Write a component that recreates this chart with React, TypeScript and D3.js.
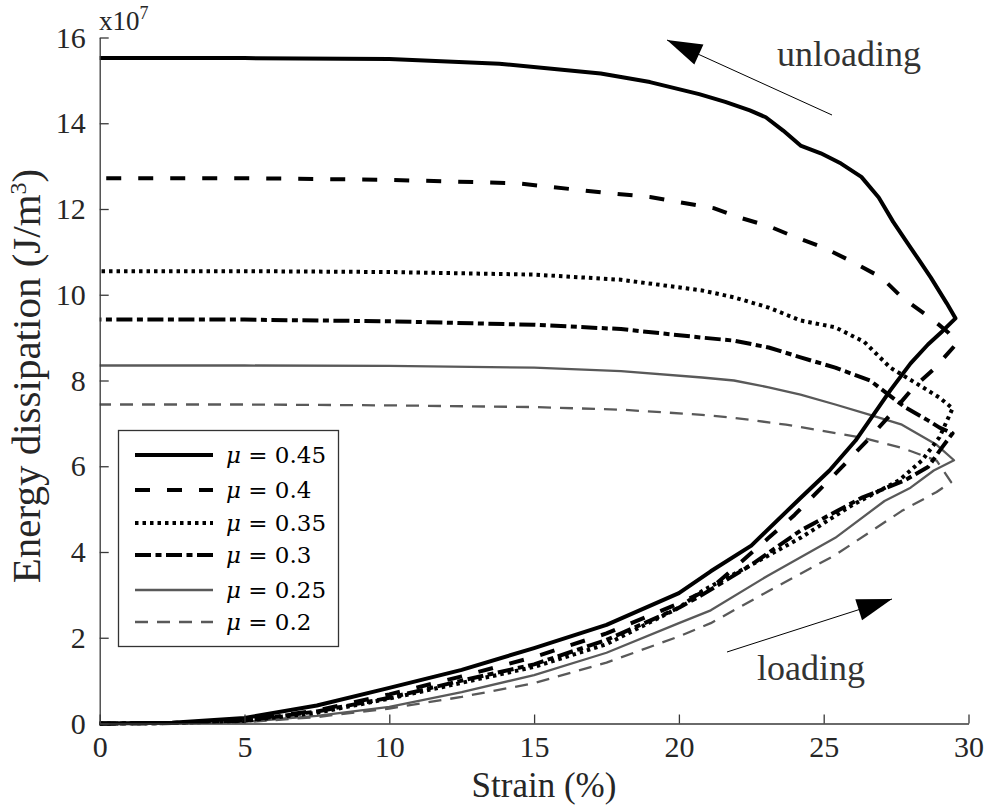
import { useRef, useEffect } from 'react';
import * as d3 from 'd3';

// strain (%) vs energy dissipation (x10^7 J/m^3), loading then unloading
const mu045 = [
  [0, 0], [2.5, 0.02], [5, 0.13], [7.5, 0.42], [10, 0.83], [12.5, 1.25], [15, 1.76],
  [17.5, 2.3], [20, 3.04], [21.1, 3.55], [22.5, 4.15], [24.2, 5.26], [25.2, 5.9],
  [26.1, 6.6], [27.3, 7.77], [28.0, 8.4], [28.6, 8.84], [29.1, 9.15], [29.55, 9.45],
  [29.25, 9.8], [28.7, 10.4], [28.3, 10.8], [27.9, 11.2], [27.4, 11.7], [26.9, 12.27],
  [26.3, 12.75], [25.6, 13.06], [24.9, 13.3], [24.2, 13.48], [23.6, 13.83], [23.0, 14.14],
  [22.45, 14.3], [21.6, 14.5], [20.7, 14.68], [19.0, 14.96], [17.3, 15.16], [13.8, 15.39],
  [10, 15.5], [5, 15.52], [0, 15.52],
];
const mu040 = [
  [0, 0], [2.5, 0.01], [5, 0.08], [7.5, 0.3], [10, 0.68], [12.5, 1.1], [15, 1.55],
  [17.5, 2.1], [20, 2.8], [21.1, 3.15], [23.1, 4.33], [24, 4.87], [25.6, 5.96],
  [26.5, 6.6], [27.3, 7.2], [28.1, 7.84], [28.84, 8.29], [29.6, 8.87],
  [29.3, 9.12], [28.8, 9.4], [27.7, 9.94], [27, 10.4], [25.9, 10.8], [25, 11.1],
  [24, 11.35], [23.1, 11.6], [22.1, 11.8], [21.2, 12.02], [19, 12.28], [17.3, 12.39],
  [14.4, 12.6], [10, 12.68], [5, 12.72], [0, 12.72],
];
const mu035 = [
  [0, 0], [2.5, 0.01], [5, 0.06], [7.5, 0.25], [10, 0.58], [12.5, 0.95], [15, 1.32],
  [17.5, 1.85], [20, 2.7], [20.8, 3.09], [22.5, 3.7], [24.2, 4.33], [26, 5.1],
  [27.6, 5.67], [28.4, 6.14], [29.0, 6.68], [29.45, 7.35],
  [29.0, 7.6], [28.4, 7.85], [27.3, 8.3], [26.4, 8.9], [25.4, 9.24], [24.2, 9.4],
  [23.1, 9.7], [21.9, 9.94], [20.8, 10.1], [18, 10.35], [15, 10.47], [10, 10.53],
  [5, 10.55], [0, 10.55],
];
const mu030 = [
  [0, 0], [2.5, 0.01], [5, 0.07], [7.5, 0.28], [10, 0.6], [12.5, 1.0], [15, 1.38],
  [17.5, 1.95], [20, 2.7], [20.8, 3.0], [22.5, 3.7], [24.2, 4.5], [26.3, 5.26],
  [27.8, 5.67], [28.6, 5.98], [29.1, 6.45], [29.45, 6.77],
  [29.0, 6.9], [28.6, 7.07], [27.8, 7.38], [26.6, 8.0], [25.4, 8.3], [24.2, 8.54],
  [23.1, 8.77], [21.9, 8.93], [20.8, 9.0], [18, 9.2], [15, 9.3], [10, 9.38],
  [5, 9.42], [0, 9.42],
];
const mu025 = [
  [0, 0], [2.5, 0.01], [5, 0.04], [7.5, 0.18], [10, 0.39], [12.5, 0.73], [15, 1.13],
  [17.5, 1.65], [20, 2.34], [21.1, 2.64], [23.1, 3.46], [25.4, 4.33], [27.1, 5.19],
  [28.0, 5.5], [28.8, 5.9], [29.5, 6.14],
  [28.9, 6.5], [27.7, 6.97], [26.6, 7.2], [25.4, 7.44], [24.2, 7.67], [23.1, 7.84],
  [21.9, 8.0], [20.8, 8.07], [18, 8.22], [15, 8.3], [10, 8.34], [5, 8.35], [0, 8.35],
];
const mu020 = [
  [0, 0], [2.5, 0.01], [5, 0.03], [7.5, 0.15], [10, 0.35], [12.5, 0.62], [15, 0.94],
  [17.5, 1.42], [20, 2.03], [21.1, 2.34], [23.1, 3.09], [25.4, 3.93], [27.7, 4.96],
  [28.9, 5.4], [29.4, 5.63],
  [28.9, 6.13], [27.7, 6.43], [26.3, 6.67], [24.9, 6.83], [23.7, 6.97], [21.9, 7.13],
  [20.8, 7.2], [18, 7.32], [15, 7.38], [10, 7.42], [5, 7.44], [0, 7.44],
];

const labels = ['0.45', '0.4', '0.35', '0.3', '0.25', '0.2'];
const xTicks = [0, 5, 10, 15, 20, 25, 30];
const yTicks = [0, 2, 4, 6, 8, 10, 12, 14, 16];

const styles = [
  { color: '#000', width: 4, dash: null },
  { color: '#000', width: 4, dash: '15,17' },
  { color: '#000', width: 4, dash: '3.5,4' },
  { color: '#000', width: 4, dash: '16,4.5,6,4.5' },
  { color: '#595959', width: 2.3, dash: null },
  { color: '#595959', width: 2.3, dash: '13,9' },
];

const FONT = 'Liberation Serif, Times New Roman, serif';

function Chart() {
  const svgRef = useRef(null);

  useEffect(() => {
    const svg = d3.select(svgRef.current);
    svg.selectAll('*').remove();

    const x = d3.scaleLinear().domain([0, 30]).range([99.7, 968.5]);
    const y = d3.scaleLinear().domain([0, 16]).range([723.5, 37.5]);
    const series = [mu045, mu040, mu035, mu030, mu025, mu020];

    const line = d3
      .line()
      .x((d) => x(d[0]))
      .y((d) => y(d[1]));

    // curves, draw lightest first
    series
      .map((s, i) => ({ s, i }))
      .reverse()
      .forEach(({ s, i }) => {
        const st = styles[i];
        svg
          .append('path')
          .datum(s)
          .attr('d', line)
          .attr('fill', 'none')
          .attr('stroke', st.color)
          .attr('stroke-width', st.width)
          .attr('stroke-linejoin', 'round')
          .attr('stroke-dasharray', st.dash);
      });

    // axes (only left and bottom, ticks inward)
    const axisColor = '#383838';
    const xAxis = svg
      .append('g')
      .attr('transform', `translate(0, ${y(0)})`)
      .call(d3.axisBottom(x).tickValues(xTicks).tickSize(-9).tickSizeOuter(0).tickPadding(12));
    const yAxis = svg
      .append('g')
      .attr('transform', `translate(${x(0)}, 0)`)
      .call(d3.axisLeft(y).tickValues(yTicks).tickSize(-9).tickSizeOuter(0).tickPadding(14));

    [xAxis, yAxis].forEach((g) => {
      g.attr('font-family', FONT);
      g.select('.domain').attr('stroke', axisColor).attr('stroke-width', 1.3);
      g.selectAll('.tick line').attr('stroke', axisColor).attr('stroke-width', 1.3);
      g.selectAll('.tick text')
        .attr('fill', '#262626')
        .attr('font-family', FONT)
        .attr('font-size', 30);
    });

    svg
      .append('text')
      .attr('x', 99)
      .attr('y', 30)
      .attr('fill', '#262626')
      .attr('font-family', FONT)
      .attr('font-size', 27)
      .text('x10')
      .append('tspan')
      .attr('dy', -11)
      .attr('font-size', 18)
      .text('7');

    svg
      .append('text')
      .attr('x', 544)
      .attr('y', 797)
      .attr('text-anchor', 'middle')
      .attr('fill', '#262626')
      .attr('font-family', FONT)
      .attr('font-size', 35)
      .text('Strain (%)');

    const yl = svg
      .append('text')
      .attr('transform', 'translate(40, 376) rotate(-90)')
      .attr('text-anchor', 'middle')
      .attr('fill', '#262626')
      .attr('font-family', FONT)
      .attr('font-size', 41);
    yl.append('tspan').text('Energy dissipation (J/m');
    yl.append('tspan').attr('dy', -14).attr('font-size', 24).text('3');
    yl.append('tspan').attr('dy', 14).text(')');

    // legend
    const leg = svg.append('g');
    leg
      .append('rect')
      .attr('x', 118.5)
      .attr('y', 430.5)
      .attr('width', 220)
      .attr('height', 216)
      .attr('fill', '#fff')
      .attr('stroke', '#333')
      .attr('stroke-width', 1.3);
    const rowY = [455, 490, 523, 555, 590, 622];
    labels.forEach((lab, i) => {
      const st = styles[i];
      leg
        .append('line')
        .attr('x1', 135)
        .attr('x2', 213)
        .attr('y1', rowY[i])
        .attr('y2', rowY[i])
        .attr('stroke', st.color)
        .attr('stroke-width', st.width)
        .attr('stroke-dasharray', st.dash);
      const t = leg
        .append('text')
        .attr('x', 226)
        .attr('y', rowY[i] + 8)
        .attr('fill', '#000')
        .attr('font-family', 'DejaVu Serif, serif')
        .attr('font-size', 23);
      t.append('tspan').attr('font-style', 'italic').text('μ');
      t.append('tspan').text(` = ${lab}`);
    });

    // annotation arrows
    const arrow = (x1, y1, x2, y2) => {
      svg
        .append('line')
        .attr('x1', x1)
        .attr('y1', y1)
        .attr('x2', x2)
        .attr('y2', y2)
        .attr('stroke', '#000')
        .attr('stroke-width', 1);
      const ang = Math.atan2(y2 - y1, x2 - x1);
      const L = 35;
      const W = 11;
      const bx = x2 - L * Math.cos(ang);
      const by = y2 - L * Math.sin(ang);
      const px = -Math.sin(ang) * W;
      const py = Math.cos(ang) * W;
      svg
        .append('path')
        .attr('d', `M${x2},${y2}L${bx + px},${by + py}L${bx - px},${by - py}Z`)
        .attr('fill', '#000');
    };
    arrow(832, 115, 667, 40);
    arrow(727, 652, 892, 599);

    svg
      .append('text')
      .attr('x', 777)
      .attr('y', 66)
      .attr('fill', '#333')
      .attr('font-family', FONT)
      .attr('font-size', 36)
      .text('unloading');
    svg
      .append('text')
      .attr('x', 757)
      .attr('y', 680)
      .attr('fill', '#333')
      .attr('font-family', FONT)
      .attr('font-size', 36)
      .text('loading');

    return () => {
      svg.selectAll('*').remove();
    };
  }, []);

  return <svg ref={svgRef} width={992} height={805} />;
}

export default function App() {
  return (
    <div style={{ position: 'absolute', left: 0, top: 0, background: '#fff' }}>
      <Chart />
    </div>
  );
}
